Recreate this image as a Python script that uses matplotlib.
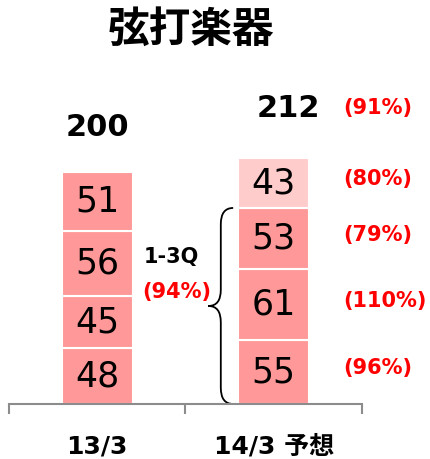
import matplotlib.pyplot as plt
import numpy as np
from matplotlib.path import Path
from matplotlib.patches import PathPatch

# data (quarterly sales, 1Q..4Q from bottom)
categories = ["13/3", "14/3 予想"]
q_13 = [48, 45, 56, 51]
q_14 = [55, 61, 53, 43]
pct_14 = ["(96%)", "(110%)", "(79%)", "(80%)"]
total_pct_14 = "(91%)"
ytd_label = "1-3Q"
ytd_pct = "(94%)"
title = "弦打楽器"

colors_13 = ["#ff9999"] * 4
colors_14 = ["#ff9999", "#ff9999", "#ff9999", "#ffcccc"]

jp_font = ["Noto Sans CJK JP", "DejaVu Sans"]
label_font = ["DejaVu Sans", "Noto Sans CJK JP"]
bar_width = 0.4


def draw_brace(axis, x_right, x_tip, y0, y1, d):
    # left facing curly brace spanning y0..y1
    xm = (x_right + x_tip) / 2
    ymid = (y0 + y1) / 2
    verts = [(x_right, y1), (xm, y1), (xm, y1 - d),
             (xm, ymid + d), (xm, ymid), (x_tip, ymid),
             (xm, ymid), (xm, ymid - d),
             (xm, y0 + d), (xm, y0), (x_right, y0)]
    codes = [Path.MOVETO, Path.CURVE3, Path.CURVE3,
             Path.LINETO, Path.CURVE3, Path.CURVE3,
             Path.CURVE3, Path.CURVE3,
             Path.LINETO, Path.CURVE3, Path.CURVE3]
    axis.add_patch(PathPatch(Path(verts, codes), fill=False, lw=1.3,
                             color="black", clip_on=False))


fig = plt.figure(figsize=(4.31, 4.59), dpi=100)
ax = fig.add_axes([9 / 431, 55 / 459, 353 / 431, 348 / 459])

x = np.arange(len(categories))
for xi, values, colors in [(0, q_13, colors_13), (1, q_14, colors_14)]:
    bottom = 0
    for value, color in zip(values, colors):
        ax.bar(xi, value, width=bar_width, bottom=bottom, color=color,
               edgecolor="white", linewidth=1.5)
        ax.text(xi, bottom + value / 2, str(value), ha="center", va="center",
                fontsize=25, color="black")
        bottom += value
    # total on top
    dx = 0 if xi == 0 else 15
    dy = 45 if xi == 0 else 50
    ax.annotate(str(sum(values)), (xi, bottom), xytext=(dx, dy),
                textcoords="offset pixels", ha="center", va="center",
                fontsize=22, fontweight="bold")

# yoy percentages for 14/3
x_pct = 1.395
bottom = 0
for value, pct in zip(q_14, pct_14):
    ax.annotate(pct, (x_pct, bottom + value / 2), xytext=(0, 4),
                textcoords="offset pixels", ha="left", va="center",
                fontsize=15, fontweight="bold", color="red", annotation_clip=False)
    bottom += value
ax.annotate(total_pct_14, (x_pct, sum(q_14)), xytext=(0, 50),
            textcoords="offset pixels", ha="left", va="center",
            fontsize=15, fontweight="bold", color="red", annotation_clip=False)

# 1-3Q brace
ytd = sum(q_14[:3])
brace_right = 1 - bar_width / 2 - 0.03
draw_brace(ax, brace_right, brace_right - 0.14, 0, ytd, 14)
ax.text(0.42, ytd * 0.75, ytd_label, ha="center", va="center",
        fontsize=15, fontweight="semibold")
ax.text(0.45, ytd * 0.57, ytd_pct, ha="center", va="center",
        fontsize=15, fontweight="bold", color="red")

ax.set_xlim(-0.5, 1.5)
ax.set_ylim(0, 300)
for side in ["top", "right", "left"]:
    ax.spines[side].set_visible(False)
ax.spines["bottom"].set_color("#8c8c8c")
ax.spines["bottom"].set_linewidth(1.5)
ax.set_yticks([])
ax.set_xticks(x, labels=[])
ax.tick_params(axis="x", which="major", length=0)
for xi, cat in zip(x, categories):
    ax.annotate(cat, (xi, 0), xytext=(0, -43), textcoords="offset pixels",
                ha="center", va="center", fontsize=18, fontweight="bold",
                family=label_font, annotation_clip=False)
ax.set_xticks([-0.5, 0.5, 1.5], minor=True)
ax.tick_params(axis="x", which="minor", length=7, width=1.5, color="#8c8c8c")

fig.text(191 / 431, 1 - 30 / 459, title, ha="center", va="center",
         fontsize=30, fontweight="bold", family=jp_font)

fig.savefig("out.png", dpi=100)
